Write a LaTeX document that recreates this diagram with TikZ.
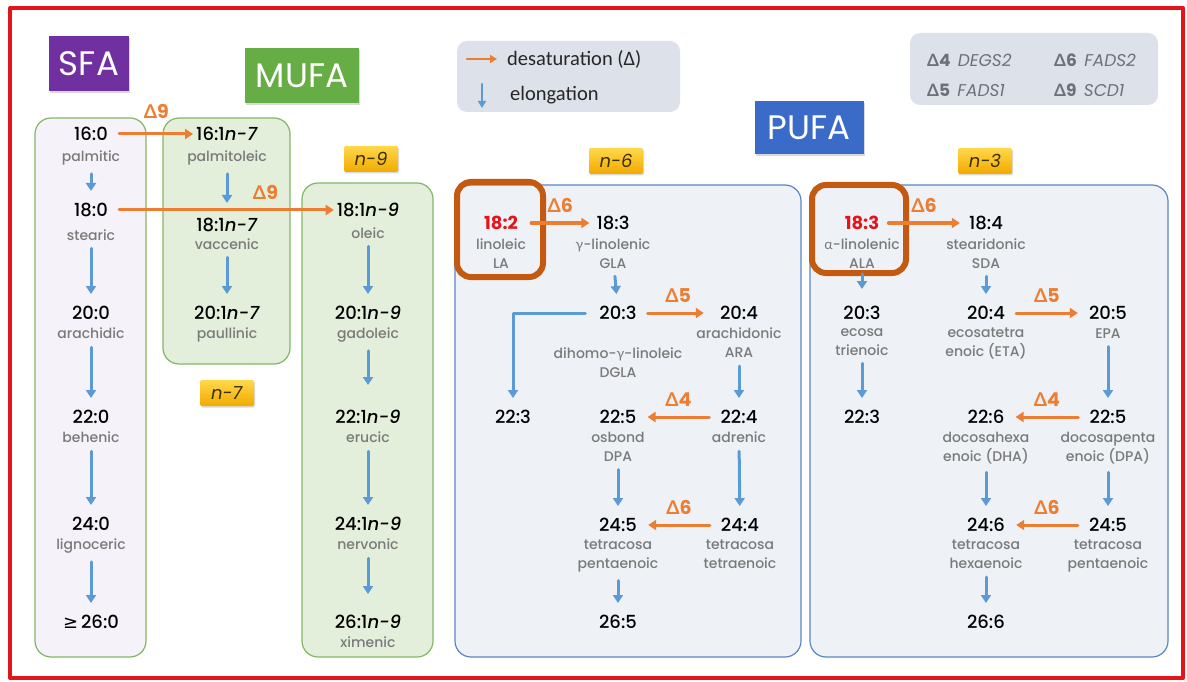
\documentclass[tikz,border=0pt]{standalone}
\usepackage{fontspec}
\setmainfont{Poppins}
\newfontfamily\numfont{Poppins Medium}
\newfontfamily\grkfont{Lato}
\newfontfamily\symfont{DejaVu Sans}
\newfontfamily\lgdfont{Carlito}
\usetikzlibrary{arrows.meta,positioning,shadows}

\definecolor{framered}{HTML}{E5141B}
\definecolor{desatorange}{HTML}{ED7D31}
\definecolor{elongblue}{HTML}{5B9BD5}
\definecolor{namegray}{HTML}{7A7A7A}
\definecolor{keygray}{HTML}{6B7079}
\definecolor{keyfill}{HTML}{DDE1EA}
\definecolor{sfafill}{HTML}{F5F3F9}
\definecolor{mufafill}{HTML}{E3EFDA}
\definecolor{mufaline}{HTML}{84B765}
\definecolor{pufafill}{HTML}{EEF2F7}
\definecolor{pufaline}{HTML}{5A86C4}
\definecolor{hilite}{HTML}{C45911}
\definecolor{tagtop}{HTML}{FFD84A}
\definecolor{tagbot}{HTML}{F2AA00}
\definecolor{tagtext}{HTML}{3A2E00}
\definecolor{sfapurple}{HTML}{7030A0}
\definecolor{mufagreen}{HTML}{67AD45}
\definecolor{pufablue}{HTML}{3B6BC8}
\definecolor{essred}{HTML}{E3151B}

\newcommand{\Dl}{{\grkfont Δ}}
\newcommand{\ggr}{{\grkfont γ}}
\newcommand{\agr}{{\grkfont α}}
\newcommand{\omg}[1]{\textit{n-#1}}

\begin{document}
\begin{tikzpicture}[x=1pt, y=-1pt, line join=round, line cap=round,
  num/.style={font=\numfont\fontsize{18}{18}\selectfont, inner sep=1pt},
  ess/.style={font=\fontsize{18}{18}\selectfont\bfseries, text=essred, inner sep=1pt},
  nm/.style={font=\numfont\fontsize{14}{19}\selectfont, text=namegray, align=center,
    inner sep=0pt, below=7pt of #1, execute at begin node=\vphantom{Ah}},
  elong/.style={elongblue, line width=3pt, shorten <=8pt, shorten >=11pt,
    -{Triangle[length=8pt,width=10pt]}},
  desat/.style={desatorange, line width=3pt, shorten <=10pt, shorten >=10pt,
    -{Triangle[length=8pt,width=10pt]}},
  dlab/.style={font=\fontsize{19}{19}\selectfont\bfseries, text=desatorange, inner sep=0pt, above=9pt},
  grp/.style={rounded corners=16pt, line width=1.2pt},
  hl/.style={draw=hilite, line width=6pt, rounded corners=14pt},
  tag/.style={top color=tagtop, bottom color=tagbot, rounded corners=2pt, inner sep=0pt,
    minimum width=54pt, minimum height=26pt, text=tagtext,
    font=\fontsize{18}{18}\selectfont, drop shadow={opacity=.3, shadow xshift=1pt, shadow yshift=-1.5pt}},
  title/.style={text=white, inner sep=0pt, font=\fontsize{34}{34}\selectfont,
    drop shadow={opacity=.3, shadow xshift=1pt, shadow yshift=-1.5pt}},
  lgd/.style={font=\lgdfont\fontsize{20.5}{20.5}\selectfont, text=black!85, inner sep=0pt},
  keytxt/.style={font=\fontsize{17}{17}\selectfont, text=keygray, inner sep=0pt, anchor=west}]
\useasboundingbox (0,0) rectangle (1187,682);

% frame and group boxes
\draw[framered, line width=4pt] (10,8) rectangle (1183,678);
\draw[grp, fill=sfafill, draw=mufaline] (35,118) rectangle (146,657);
\draw[grp, fill=mufafill, draw=mufaline] (163,118) rectangle (290,364);
\draw[grp, fill=mufafill, draw=mufaline] (302,183) rectangle (433,657);
\draw[grp, fill=pufafill, draw=pufaline] (455,185) rectangle (801,657);
\draw[grp, fill=pufafill, draw=pufaline] (810,185) rectangle (1168,657);
\draw[hl] (457,182) rectangle (543,277);
\draw[hl] (812,185) rectangle (906,273);

% titles and tags
\node[title, fill=sfapurple, minimum width=80pt, minimum height=55pt] (sfa) at (89,64) {SFA};
\node[title, fill=mufagreen, minimum width=114pt, minimum height=55pt] (mufa) at (302,76) {MUFA};
\node[title, fill=pufablue, minimum width=109pt, minimum height=53pt] (pufa) at (809,128) {PUFA};
\node[tag] (tag9) at (371,159) {\omg9};
\node[tag] (tag7) at (227,393) {\omg7};
\node[tag] (tag6) at (616,161) {\omg6};
\node[tag] (tag3) at (985,161) {\omg3};

% legend
\fill[keyfill, rounded corners=10pt] (457,41) rectangle (680,112);
\coordinate (ld0) at (467,59);
\coordinate (ld1) at (497,59);
\coordinate (le0) at (482,84);
\coordinate (le1) at (482,108);
\draw[desatorange, line width=2.2pt, -{Triangle[length=7pt,width=8pt]}] (ld0) -- (ld1);
\draw[elongblue, line width=2.2pt, -{Triangle[length=7pt,width=8pt]}] (le0) -- (le1);
\node[lgd, anchor=west] (lgdd) at (507,59) {desaturation (Δ)};
\node[lgd, anchor=west] (lgde) at (510,95) {elongation};

% enzyme key
\fill[keyfill, rounded corners=10pt] (910,33) rectangle (1158,105);
\node[keytxt] (k4) at (927,60) {\textbf{\Dl4}\, \textit{DEGS2}};
\node[keytxt] (k5) at (927,90) {\textbf{\Dl5}\, \textit{FADS1}};
\node[keytxt] (k6) at (1054,60) {\textbf{\Dl6}\, \textit{FADS2}};
\node[keytxt] (k9) at (1054,90) {\textbf{\Dl9}\, \textit{SCD1}};

% SFA
\node[num] (s16) at (91,134) {16:0};
\node[nm=s16, below=9pt of s16] (s16l) {palmitic};
\node[num] (s18) at (91,210) {18:0};
\node[nm=s18, below=11pt of s18] (s18l) {stearic};
\node[num] (s20) at (91,313) {20:0};
\node[nm=s20] (s20l) {arachidic};
\node[num] (s22) at (91,417) {22:0};
\node[nm=s22] (s22l) {behenic};
\node[num] (s24) at (91,524) {24:0};
\node[nm=s24] (s24l) {lignoceric};
\node[num] (s26) at (91,622) {{\symfont ≥}\,26:0};
\foreach \a/\b in {s16l/s18, s18l/s20, s20l/s22, s22l/s24, s24l/s26}
  \draw[elong] (\a) -- (\b);

% MUFA n-7
\node[num] (m16) at (227,134) {16:1\omg7};
\node[nm=m16, below=9pt of m16] (m16l) {palmitoleic};
\node[num] (m18) at (227,225) {18:1\omg7};
\node[nm=m18, below=5pt of m18] (m18l) {vaccenic};
\node[num] (m20) at (227,313) {20:1\omg7};
\node[nm=m20] (m20l) {paullinic};
\draw[elong, shorten >=14pt] (m16l) -- (m18);
\draw[elong] (m18l) -- (m20);

% MUFA n-9
\node[num] (o18) at (368,210) {18:1\omg9};
\node[nm=o18, below=9pt of o18] (o18l) {oleic};
\node[num] (o20) at (368,313) {20:1\omg9};
\node[nm=o20] (o20l) {gadoleic};
\node[num] (o22) at (368,417) {22:1\omg9};
\node[nm=o22] (o22l) {erucic};
\node[num] (o24) at (368,524) {24:1\omg9};
\node[nm=o24] (o24l) {nervonic};
\node[num] (o26) at (368,622) {26:1\omg9};
\node[nm=o26] (o26l) {ximenic};
\draw[elong] (o18l) -- (o20);
\draw[elong, shorten >=24pt] (o20l) -- (o22);
\draw[elong] (o22l) -- (o24);
\draw[elong, shorten >=20pt] (o24l) -- (o26);

% delta 9
\draw[desat, shorten >=2pt] (s16) -- node[dlab, pos=.55, above=14pt]{\Dl9} (m16);
\draw[desat, shorten >=2pt] (s18) -- node[dlab, pos=.69]{\Dl9} (o18);

% PUFA n-6
\node[ess] (a182) at (501,223) {18:2};
\node[nm=a182] (a182l) {linoleic\\LA};
\node[num] (a183) at (613,223) {18:3};
\node[nm=a183] (a183l) {\ggr-linolenic\\GLA};
\node[num] (a203) at (618,313) {20:3};
\node[nm=a203, below=27pt of a203] (a203l) {dihomo-\ggr-linoleic\\DGLA};
\node[num] (a204) at (739,313) {20:4};
\node[nm=a204] (a204l) {arachidonic\\ARA};
\node[num] (a223) at (513,417) {22:3};
\node[num] (a225) at (618,417) {22:5};
\node[nm=a225] (a225l) {osbond\\DPA};
\node[num] (a224) at (739,417) {22:4};
\node[nm=a224] (a224l) {adrenic};
\node[num] (a245) at (618,525) {24:5};
\node[nm=a245] (a245l) {tetracosa\\pentaenoic};
\node[num] (a244) at (740,525) {24:4};
\node[nm=a244] (a244l) {tetracosa\\tetraenoic};
\node[num] (a265) at (618,622) {26:5};
\draw[desat, shorten <=12pt, shorten >=6pt] (a182) -- node[dlab, xshift=3pt]{\Dl6} (a183);
\draw[elong] (a183l) -- (a203);
\draw[desat, shorten >=15pt] (a203) -- node[dlab]{\Dl5} (a204);
\draw[elong, shorten <=13pt] (a203.west) -| (a223.north);
\draw[elong] (a204l) -- (a224);
\draw[desat] (a224) -- node[dlab]{\Dl4} (a225);
\draw[elong] (a225l) -- (a245);
\draw[elong] (a224l) -- (a244);
\draw[desat] (a244) -- node[dlab]{\Dl6} (a245);
\draw[elong] (a245l) -- (a265);

% PUFA n-3
\node[ess] (b183) at (862,223) {18:3};
\node[nm=b183] (b183l) {\agr-linolenic\\ALA};
\node[num] (b184) at (986,223) {18:4};
\node[nm=b184] (b184l) {stearidonic\\SDA};
\node[num] (b203) at (862,313) {20:3};
\node[nm=b203] (b203l) {ecosa\\trienoic};
\node[num] (b204) at (986,313) {20:4};
\node[nm=b204] (b204l) {ecosatetra\\enoic (ETA)};
\node[num] (b205) at (1108,313) {20:5};
\node[nm=b205] (b205l) {EPA};
\node[num] (b223) at (862,417) {22:3};
\node[num] (b226) at (986,417) {22:6};
\node[nm=b226] (b226l) {docosahexa\\enoic (DHA)};
\node[num] (b225) at (1108,417) {22:5};
\node[nm=b225] (b225l) {docosapenta\\enoic (DPA)};
\node[num] (b246) at (986,525) {24:6};
\node[nm=b246] (b246l) {tetracosa\\hexaenoic};
\node[num] (b245) at (1108,525) {24:5};
\node[nm=b245] (b245l) {tetracosa\\pentaenoic};
\node[num] (b266) at (986,622) {26:6};
\draw[desat, shorten <=8pt, shorten >=8pt] (b183) -- node[dlab]{\Dl6} (b184);
\draw[elong, shorten <=6pt, shorten >=16pt] (b183l) -- (b203);
\draw[elong] (b184l) -- (b204);
\draw[elong] (b203l) -- (b223);
\draw[desat] (b204) -- node[dlab]{\Dl5} (b205);
\draw[elong] (b205l) -- (b225);
\draw[desat] (b225) -- node[dlab]{\Dl4} (b226);
\draw[elong] (b226l) -- (b246);
\draw[elong] (b225l) -- (b245);
\draw[desat] (b245) -- node[dlab]{\Dl6} (b246);
\draw[elong] (b246l) -- (b266);
\end{tikzpicture}
\end{document}
